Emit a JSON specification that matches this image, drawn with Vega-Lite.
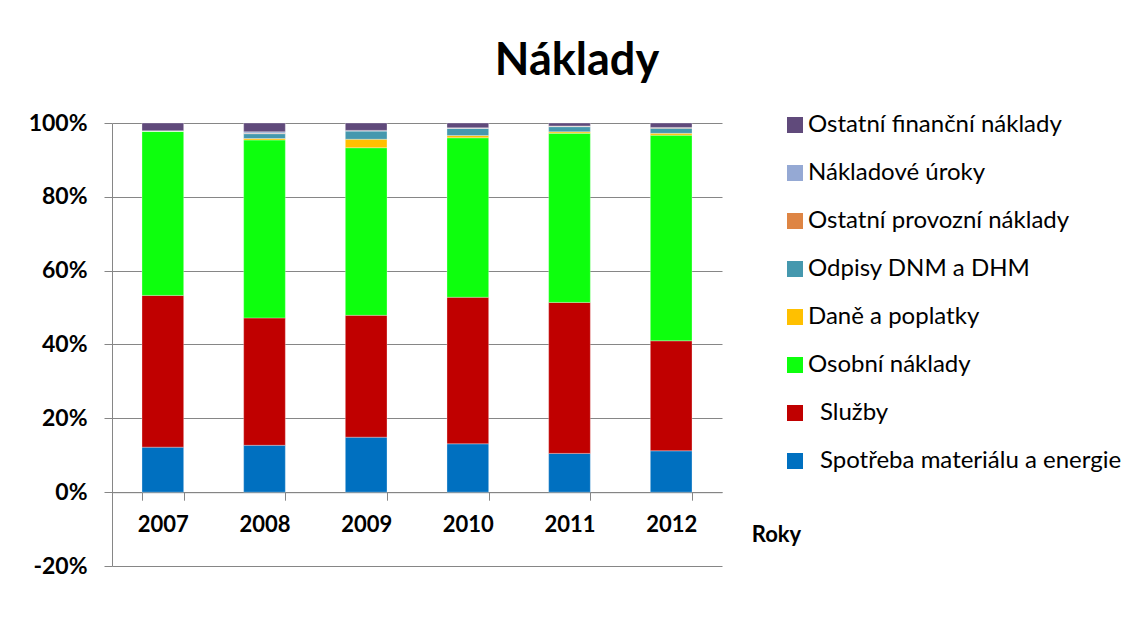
{
  "$schema": "https://vega.github.io/schema/vega-lite/v6.json",
  "width": 610,
  "height": 443,
  "autosize": {"type": "none"},
  "padding": {"left": 112, "top": 123, "right": 414, "bottom": 64},
  "background": "white",
  "title": {
    "text": "Náklady",
    "font": "Lato",
    "fontSize": 45,
    "fontWeight": "bold",
    "color": "black",
    "anchor": "middle",
    "dx": 160,
    "offset": -8,
    "baseline": "alphabetic"
  },
  "data": {
    "values": [
      {"year": "2007", "cat": "Spotřeba materiálu a energie", "ord": 1, "value": 0.122},
      {"year": "2007", "cat": "Služby", "ord": 2, "value": 0.411},
      {"year": "2007", "cat": "Osobní náklady", "ord": 3, "value": 0.445},
      {"year": "2007", "cat": "Daně a poplatky", "ord": 4, "value": 0.0},
      {"year": "2007", "cat": "Odpisy  DNM a DHM", "ord": 5, "value": 0.0},
      {"year": "2007", "cat": "Ostatní provozní náklady", "ord": 6, "value": 0.0},
      {"year": "2007", "cat": "Nákladové úroky", "ord": 7, "value": 0.001},
      {"year": "2007", "cat": "Ostatní finanční náklady", "ord": 8, "value": 0.021},

      {"year": "2008", "cat": "Spotřeba materiálu a energie", "ord": 1, "value": 0.127},
      {"year": "2008", "cat": "Služby", "ord": 2, "value": 0.345},
      {"year": "2008", "cat": "Osobní náklady", "ord": 3, "value": 0.482},
      {"year": "2008", "cat": "Daně a poplatky", "ord": 4, "value": 0.004},
      {"year": "2008", "cat": "Odpisy  DNM a DHM", "ord": 5, "value": 0.013},
      {"year": "2008", "cat": "Ostatní provozní náklady", "ord": 6, "value": 0.001},
      {"year": "2008", "cat": "Nákladové úroky", "ord": 7, "value": 0.004},
      {"year": "2008", "cat": "Ostatní finanční náklady", "ord": 8, "value": 0.024},

      {"year": "2009", "cat": "Spotřeba materiálu a energie", "ord": 1, "value": 0.149},
      {"year": "2009", "cat": "Služby", "ord": 2, "value": 0.330},
      {"year": "2009", "cat": "Osobní náklady", "ord": 3, "value": 0.454},
      {"year": "2009", "cat": "Daně a poplatky", "ord": 4, "value": 0.023},
      {"year": "2009", "cat": "Odpisy  DNM a DHM", "ord": 5, "value": 0.022},
      {"year": "2009", "cat": "Ostatní provozní náklady", "ord": 6, "value": 0.001},
      {"year": "2009", "cat": "Nákladové úroky", "ord": 7, "value": 0.001},
      {"year": "2009", "cat": "Ostatní finanční náklady", "ord": 8, "value": 0.020},

      {"year": "2010", "cat": "Spotřeba materiálu a energie", "ord": 1, "value": 0.131},
      {"year": "2010", "cat": "Služby", "ord": 2, "value": 0.397},
      {"year": "2010", "cat": "Osobní náklady", "ord": 3, "value": 0.432},
      {"year": "2010", "cat": "Daně a poplatky", "ord": 4, "value": 0.006},
      {"year": "2010", "cat": "Odpisy  DNM a DHM", "ord": 5, "value": 0.019},
      {"year": "2010", "cat": "Ostatní provozní náklady", "ord": 6, "value": 0.001},
      {"year": "2010", "cat": "Nákladové úroky", "ord": 7, "value": 0.001},
      {"year": "2010", "cat": "Ostatní finanční náklady", "ord": 8, "value": 0.013},

      {"year": "2011", "cat": "Spotřeba materiálu a energie", "ord": 1, "value": 0.105},
      {"year": "2011", "cat": "Služby", "ord": 2, "value": 0.409},
      {"year": "2011", "cat": "Osobní náklady", "ord": 3, "value": 0.458},
      {"year": "2011", "cat": "Daně a poplatky", "ord": 4, "value": 0.004},
      {"year": "2011", "cat": "Odpisy  DNM a DHM", "ord": 5, "value": 0.014},
      {"year": "2011", "cat": "Ostatní provozní náklady", "ord": 6, "value": 0.001},
      {"year": "2011", "cat": "Nákladové úroky", "ord": 7, "value": 0.001},
      {"year": "2011", "cat": "Ostatní finanční náklady", "ord": 8, "value": 0.008},

      {"year": "2012", "cat": "Spotřeba materiálu a energie", "ord": 1, "value": 0.112},
      {"year": "2012", "cat": "Služby", "ord": 2, "value": 0.298},
      {"year": "2012", "cat": "Osobní náklady", "ord": 3, "value": 0.557},
      {"year": "2012", "cat": "Daně a poplatky", "ord": 4, "value": 0.005},
      {"year": "2012", "cat": "Odpisy  DNM a DHM", "ord": 5, "value": 0.014},
      {"year": "2012", "cat": "Ostatní provozní náklady", "ord": 6, "value": 0.001},
      {"year": "2012", "cat": "Nákladové úroky", "ord": 7, "value": 0.001},
      {"year": "2012", "cat": "Ostatní finanční náklady", "ord": 8, "value": 0.012}
    ]
  },
  "mark": {"type": "bar", "stroke": "white", "strokeWidth": 0.6, "strokeOpacity": 0.5},
  "encoding": {
    "x": {
      "field": "year",
      "type": "nominal",
      "scale": {"paddingInner": 0.59, "paddingOuter": 0.295},
      "axis": {
        "title": "Roky",
        "offset": -73.8,
        "tickBand": "extent",
        "tickSize": 8,
        "tickColor": "#868686",
        "domainColor": "#868686",
        "labelAngle": 0,
        "labelPadding": 14,
        "labelFont": "Lato",
        "labelFontSize": 22,
        "labelFontWeight": "bold",
        "labelColor": "black",
        "titleFont": "Lato",
        "titleFontSize": 22,
        "titleFontWeight": "bold",
        "titleColor": "black",
        "titleX": 664,
        "titleY": 49,
        "titleAlign": "center",
        "titleBaseline": "alphabetic",
        "grid": false
      }
    },
    "y": {
      "field": "value",
      "type": "quantitative",
      "stack": "zero",
      "scale": {"domain": [-0.2, 1], "nice": false, "zero": false},
      "axis": {
        "title": null,
        "format": "%",
        "labelExpr": "replace(datum.label, '\u2212', '-')",
        "values": [-0.2, 0, 0.2, 0.4, 0.6, 0.8, 1],
        "grid": true,
        "gridColor": "#868686",
        "domainColor": "#868686",
        "tickColor": "#868686",
        "tickSize": 8,
        "labelPadding": 17,
        "labelFont": "Lato",
        "labelFontSize": 23,
        "labelFontWeight": "bold",
        "labelColor": "black"
      }
    },
    "color": {
      "field": "cat",
      "type": "nominal",
      "scale": {
        "domain": [
          "Ostatní finanční náklady",
          "Nákladové úroky",
          "Ostatní provozní náklady",
          "Odpisy  DNM a DHM",
          "Daně a poplatky",
          "Osobní náklady",
          "Služby",
          "Spotřeba materiálu a energie"
        ],
        "range": ["#604A7B", "#95A9D4", "#DE8544", "#4598AE", "#FFC000", "#0DFF0D", "#C00000", "#0070C0"]
      },
      "legend": {
        "title": null,
        "orient": "none",
        "legendX": 671,
        "legendY": -10,
        "padding": 0,
        "symbolType": "square",
        "symbolSize": 256,
        "symbolStrokeWidth": 0,
        "symbolOpacity": 1,
        "labelFont": "Lato",
        "labelFontSize": 24,
        "labelColor": "black",
        "labelOffset": 1,
        "labelLimit": 420,
        "rowPadding": 24,
        "labelExpr": "(datum.label == 'Služby' || datum.label == 'Spotřeba materiálu a energie') ? '\u200b\u2002' + datum.label : datum.label"
      }
    },
    "order": {"field": "ord", "type": "quantitative"}
  },
  "config": {"view": {"stroke": null}}
}
